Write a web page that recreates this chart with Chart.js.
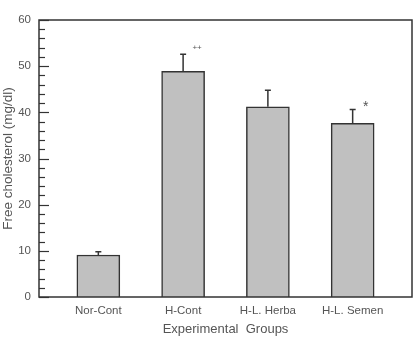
<!DOCTYPE html>
<html>
<head>
<meta charset="utf-8">
<script src="https://cdn.jsdelivr.net/npm/chart.js@4"></script>
<style>
    html, body { margin: 0; padding: 0; background: #fff; }
    #wrap { width: 419px; height: 337px; }
</style>
</head>
<body>
<div id="wrap"><canvas id="chart" width="419" height="337"></canvas></div>
<script>
const groups = ['Nor-Cont', 'H-Cont', 'H-L. Herba', 'H-L. Semen'];
const means = [9.1, 48.9, 41.2, 37.6];
const errors = [0.7, 3.7, 3.6, 3.0];
const marks = ['', '++', '', '*'];
const yMin = 0;
const yMax = 60;
const yStep = 10;
const yMinorStep = 2;

const INK = '#333';
const TEXT = '#555';
const FONT = '"Liberation Sans", Arial, sans-serif';

// frame, inward y ticks, error bars and significance marks
const decorations = {
    id: 'decorations',
    afterDatasetsDraw(chart) {
        const { ctx, chartArea: a, scales } = chart;
        const x = scales.x, y = scales.y;
        ctx.save();

        ctx.strokeStyle = INK;
        ctx.lineWidth = 1.5;
        ctx.strokeRect(a.left, a.top, a.right - a.left, a.bottom - a.top);

        ctx.lineWidth = 1.2;
        for (let v = yMin; v <= yMax; v += yMinorStep) {
            const py = Math.round(y.getPixelForValue(v)) + 0.5;
            const len = v % yStep === 0 ? 10 : 6;
            ctx.beginPath();
            ctx.moveTo(a.left, py);
            ctx.lineTo(a.left + len, py);
            ctx.stroke();
        }

        ctx.lineWidth = 1.5;
        means.forEach((m, i) => {
            const px = x.getPixelForValue(i);
            const top = y.getPixelForValue(m + errors[i]);
            ctx.beginPath();
            ctx.moveTo(px, y.getPixelForValue(m));
            ctx.lineTo(px, top);
            ctx.moveTo(px - 3, top);
            ctx.lineTo(px + 3, top);
            ctx.stroke();

            if (marks[i]) {
                ctx.fillStyle = TEXT;
                ctx.textAlign = 'center';
                ctx.textBaseline = 'middle';
                if (marks[i] === '*') {
                    ctx.font = '14px ' + FONT;
                    ctx.fillText('*', px + 13, top - 2);
                } else {
                    ctx.font = '8px ' + FONT;
                    ctx.fillText(marks[i], px + 14, top - 6);
                }
            }
        });
        ctx.restore();
    }
};

new Chart(document.getElementById('chart'), {
    type: 'bar',
    data: {
        datasets: [{
            data: means.map((m, i) => ({ x: i, y: m })),
            backgroundColor: '#c0c0c0',
            borderColor: INK,
            borderWidth: 1.5,
            barThickness: 43
        }]
    },
    options: {
        responsive: false,
        animation: false,
        events: [],
        layout: { padding: { top: 20, right: 7, left: 0, bottom: 0 } },
        plugins: {
            legend: { display: false },
            tooltip: { enabled: false }
        },
        scales: {
            x: {
                type: 'linear',
                offset: false,
                min: -0.7,
                max: 3.7,
                grid: { display: false, drawTicks: false },
                border: { display: false },
                afterBuildTicks: scale => {
                    scale.ticks = groups.map((g, i) => ({ value: i }));
                },
                afterFit: scale => { scale.height = 40; },
                ticks: {
                    autoSkip: false,
                    maxRotation: 0,
                    padding: 7,
                    color: TEXT,
                    font: { family: FONT, size: 11.5 },
                    callback: value => groups[value]
                },
                title: {
                    display: true,
                    text: 'Experimental  Groups',
                    color: TEXT,
                    padding: { top: 1, bottom: 0 },
                    font: { family: FONT, size: 13 }
                }
            },
            y: {
                min: yMin,
                max: yMax,
                grid: { display: false, drawTicks: false },
                border: { display: false },
                afterFit: scale => { scale.width = 39; },
                ticks: {
                    stepSize: yStep,
                    padding: 8,
                    color: TEXT,
                    font: { family: FONT, size: 11.5 }
                },
                title: {
                    display: true,
                    text: 'Free cholesterol (mg/dl)',
                    color: TEXT,
                    padding: 0,
                    font: { family: FONT, size: 13.5 }
                }
            }
        }
    },
    plugins: [decorations]
});
</script>
</body>
</html>
